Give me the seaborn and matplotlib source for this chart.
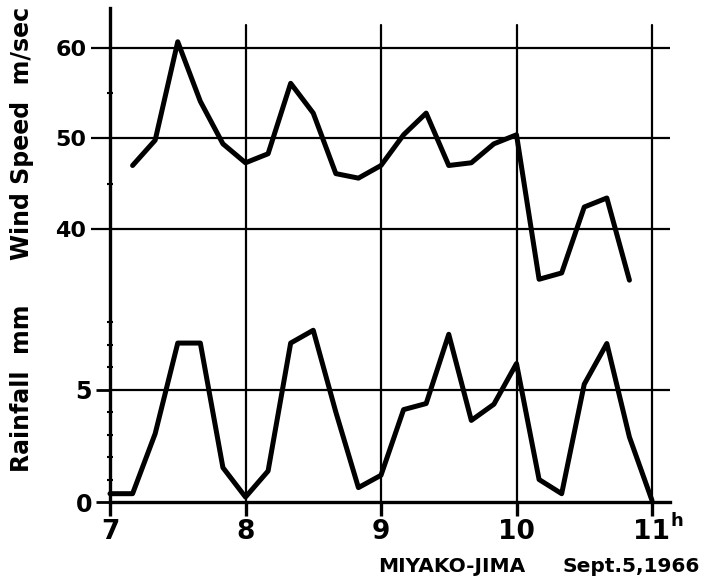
import matplotlib
matplotlib.use("Agg")
import matplotlib.pyplot as plt
import seaborn as sns
import pandas as pd

# ---- data ----
wind_times = ["7:10", "7:20", "7:30", "7:40", "7:50", "8:00", "8:10", "8:20",
              "8:30", "8:40", "8:50", "9:00", "9:10", "9:20", "9:30", "9:40",
              "9:50", "10:00", "10:10", "10:20", "10:30", "10:40", "10:50"]
wind_speed = [47.0, 49.8, 60.7, 54.1, 49.4, 47.3, 48.3, 56.1,
              52.8, 46.1, 45.6, 47.0, 50.4, 52.8, 47.0, 47.3,
              49.4, 50.4, 34.4, 35.1, 42.4, 43.4, 34.3]

rain_times = ["7:00", "7:10", "7:20", "7:30", "7:40", "7:50", "8:00", "8:10",
              "8:20", "8:30", "8:40", "8:50", "9:00", "9:10", "9:20", "9:30",
              "9:40", "9:50", "10:00", "10:10", "10:20", "10:30", "10:40",
              "10:50", "11:00"]
rainfall = [0.37, 0.37, 3.04, 7.07, 7.07, 1.53, 0.22, 1.38,
            7.07, 7.64, 4.0, 0.64, 1.19, 4.11, 4.38, 7.46,
            3.63, 4.35, 6.16, 1.0, 0.37, 5.24, 7.05,
            2.89, 0.07]

x_ticks = [7, 8, 9, 10, 11]
x_tick_labels = ["7", "8", "9", "10", "11"]
wind_ticks = [40, 50, 60]
wind_minor = [45, 55]
rain_ticks = [0, 5]
rain_minor = [1, 2, 3, 4, 6, 7, 8]

wind_label = "Wind Speed  m/sec"
rain_label = "Rainfall  mm"
station = "MIYAKO-JIMA"
date = "Sept.5,1966"


def to_hours(t):
    h, m = t.split(":")
    return int(h) + int(m) / 60.0


wind_df = pd.DataFrame({"time": [to_hours(t) for t in wind_times], "wind": wind_speed})
rain_df = pd.DataFrame({"time": [to_hours(t) for t in rain_times], "rain": rainfall})

sns.set_theme(style="white")
plt.rcParams["font.family"] = ["DejaVu Sans"]
plt.rcParams["font.weight"] = "bold"
plt.rcParams["text.color"] = "black"
plt.rcParams["xtick.color"] = "black"
plt.rcParams["ytick.color"] = "black"
plt.rcParams["xtick.labelcolor"] = "black"
plt.rcParams["ytick.labelcolor"] = "black"

W, H = 705, 585
fig = plt.figure(figsize=(W / 100, H / 100), dpi=100)
fig.patch.set_facecolor("white")

left, right, top, bottom = 110, 670, 8, 502
ax = fig.add_axes([left / W, (H - bottom) / H, (right - left) / W, (bottom - top) / H])
ax2 = ax.twinx()

LW = 3.6
sns.lineplot(data=rain_df, x="time", y="rain", ax=ax, color="black", lw=LW,
             sort=False, clip_on=False)
sns.lineplot(data=wind_df, x="time", y="wind", ax=ax2, color="black", lw=LW,
             sort=False)

# scales
px_per_hour = 135.5
ax.set_xlim(7, 7 + (right - left) / px_per_hour)
rain_px = 22.48
ax.set_ylim(0, (bottom - top) / rain_px)
wind_px = 9.03
y40 = 228.7
ax2.set_ylim(40 - (bottom - y40) / wind_px, 40 + (y40 - top) / wind_px)

# grid lines
for yv in wind_ticks:
    ax2.axhline(yv, color="black", lw=1.6, zorder=1)
for yv in rain_ticks[1:]:
    ax.axhline(yv, color="black", lw=1.6, zorder=1)
for xv in x_ticks[1:]:
    ax.axvline(xv, ymin=0, ymax=(bottom - 25) / (bottom - top), color="black",
               lw=1.6, zorder=1)

# spines
for a in (ax, ax2):
    a.spines["top"].set_visible(False)
    a.spines["right"].set_visible(False)
    a.set_facecolor("none")
ax2.spines["left"].set_visible(False)
ax2.spines["bottom"].set_visible(False)
ax.spines["left"].set_linewidth(2.4)
ax.spines["bottom"].set_linewidth(2.4)
ax.spines["left"].set_color("black")
ax.spines["bottom"].set_color("black")

# ticks
ax.set_xticks(x_ticks)
ax.set_xticklabels(x_tick_labels)
ax.tick_params(axis="x", direction="out", length=10, width=2.4, color="black",
               pad=2, labelsize=19, bottom=True, labelcolor="black")
ax.set_yticks(rain_ticks)
ax.set_yticklabels([str(v) for v in rain_ticks])
ax.set_yticks(rain_minor, minor=True)
ax.tick_params(axis="y", which="major", direction="out", length=10, width=2,
               color="black", pad=3, labelsize=17, left=True, labelcolor="black")
ax.tick_params(axis="y", which="minor", direction="inout", length=5, width=1.5,
               color="black", left=True)

ax2.yaxis.tick_left()
ax2.yaxis.set_label_position("left")
ax2.set_yticks(wind_ticks)
ax2.set_yticklabels([str(v) for v in wind_ticks])
ax2.set_yticks(wind_minor, minor=True)
ax2.tick_params(axis="y", which="major", direction="out", length=14, width=1.6,
                color="black", pad=3, labelsize=16, left=True, right=False,
                labelcolor="black")
ax2.tick_params(axis="y", which="minor", direction="inout", length=5, width=1.5,
                color="black", left=True, right=False)

for lab in ax.get_xticklabels() + ax.get_yticklabels() + ax2.get_yticklabels():
    lab.set_fontweight("bold")

ax.set_xlabel("")
ax.set_ylabel("")
ax2.set_xlabel("")
ax2.set_ylabel("")

# axis titles
fig.text(22 / W, 1 - 133 / H, wind_label, rotation=90, ha="center", va="center",
         fontsize=17, fontweight="bold", color="black")
fig.text(22 / W, 1 - 388 / H, rain_label, rotation=90, ha="center", va="center",
         fontsize=17, fontweight="bold", color="black")

# hour superscript
fig.text(671 / W, 1 - 521 / H, "h", ha="left", va="center", fontsize=13,
         fontweight="bold", color="black")

# footer
fig.text(378 / W, 1 - 567 / H, station, ha="left", va="center", fontsize=14.5,
         fontweight="bold", color="black")
fig.text(563 / W, 1 - 567 / H, date, ha="left", va="center", fontsize=14.5,
         fontweight="bold", color="black")

fig.savefig("out.png", dpi=100, facecolor="white")
